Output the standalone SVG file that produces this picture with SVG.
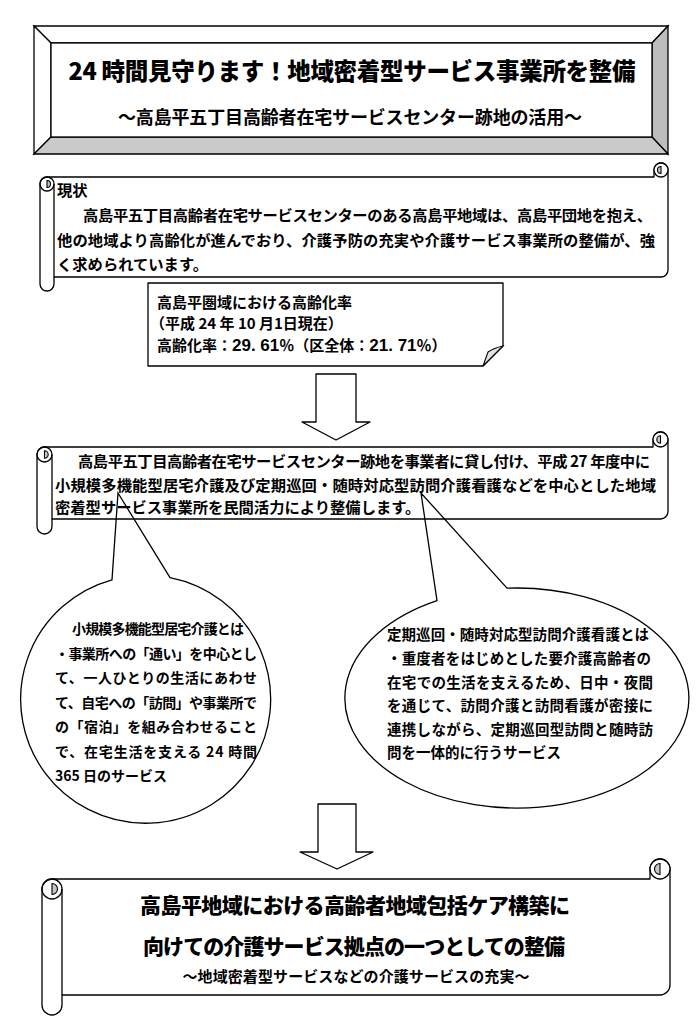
<svg xmlns="http://www.w3.org/2000/svg" width="700" height="1019" viewBox="0 0 700 1019">
<style>
.ln{fill:none;stroke:#000;stroke-width:1.3}
.sh{fill:#fff;stroke:#000;stroke-width:1.3;stroke-linejoin:round}
.gr{fill:#c6c6c6;stroke:#000;stroke-width:1.1}
.t{font-family:'Noto Sans CJK JP','Noto Sans',sans-serif;font-weight:700;fill:#000}
.hv{font-weight:900}
.num{font-family:'Liberation Sans',Arial,sans-serif;font-weight:700;font-size:17px}
</style>
<rect width="700" height="1019" fill="#fff"/>

<g id="title">
  <polygon points="34,26 668,26 652,43 51,43" fill="#fff" stroke="#000" stroke-width="1.3"/>
  <polygon points="34,26 51,43 51,137 34,154" fill="#fff" stroke="#000" stroke-width="1.3"/>
  <polygon points="668,26 668,154 652,137 652,43" fill="#bdbdbd" stroke="#000" stroke-width="1.3"/>
  <polygon points="34,154 668,154 652,137 51,137" fill="#cacaca" stroke="#000" stroke-width="1.3"/>
  <rect x="51" y="43" width="601" height="94" fill="#fff" stroke="#000" stroke-width="1.3"/>
  <text class="t hv" x="352" y="80" font-size="23.5" text-anchor="middle" textLength="567">24 時間見守ります！地域密着型サービス事業所を整備</text>
  <text class="t" x="350" y="124" font-size="18" text-anchor="middle" textLength="464">～高島平五丁目高齢者在宅サービスセンター跡地の活用～</text>
</g>

<g id="scroll-status">
  <path class="sh" d="M47,177 H654 V170 A7 7 0 0 1 668,170 V270 A7 7 0 0 1 661,277 H54 V284 A7 7 0 0 1 40,284 V184 A7 7 0 0 1 47,177 Z"/>
  <path class="ln" d="M54,184 V277"/>
  <circle class="ln" cx="47" cy="184" r="7"/>
  <path class="gr" d="M47,180.5 A3.5 3.5 0 0 1 47,187.5 Z"/>
  <circle class="sh" cx="661" cy="170" r="7"/>
  <path class="gr" d="M661,173.5 A3.5 3.5 0 0 1 661,166.5 Z"/>
  <text class="t" x="57" y="196" font-size="15.3">現状</text>
  <text class="t" x="83" y="221" font-size="15.3" textLength="569">高島平五丁目高齢者在宅サービスセンターのある高島平地域は、高島平団地を抱え、</text>
  <text class="t" x="57" y="246" font-size="15.3" textLength="598">他の地域より高齢化が進んでおり、介護予防の充実や介護サービス事業所の整備が、強</text>
  <text class="t" x="57" y="270" font-size="15.3">く求められています。</text>
</g>

<g id="note-rate">
  <path class="sh" d="M148,283 H503 V346 L483,366 H148 Z"/>
  <path d="M483,366 L488,352 Q494,348 503,346 Z" fill="#e2e2e2" stroke="#000" stroke-width="1.1"/>
  <text class="t" x="157" y="308" font-size="15">高島平圏域における高齢化率</text>
  <text class="t" x="150" y="329" font-size="15">（平成 24 年 10 月1日現在）</text>
  <text class="t" x="157" y="351" font-size="15">高齢化率：<tspan class="num">29. 61</tspan>％（区全体：<tspan class="num">21. 71</tspan>％）</text>
</g>

<g id="scroll-plan">
  <path class="sh" d="M44.5,447 H653 V439.5 A7.5 7.5 0 0 1 668,439.5 V511.5 A7.5 7.5 0 0 1 660.5,519 H52 V526.5 A7.5 7.5 0 0 1 37,526.5 V454.5 A7.5 7.5 0 0 1 44.5,447 Z"/>
  <path class="ln" d="M52,454.5 V519"/>
  <circle class="ln" cx="44.5" cy="454.5" r="7.5"/>
  <path class="gr" d="M44.5,450.8 A3.7 3.7 0 0 1 44.5,458.2 Z"/>
  <circle class="sh" cx="660.5" cy="439.5" r="7.5"/>
  <path class="gr" d="M660.5,443.2 A3.7 3.7 0 0 1 660.5,435.8 Z"/>
  <text class="t" x="78" y="467" font-size="15.3" textLength="572">高島平五丁目高齢者在宅サービスセンター跡地を事業者に貸し付け、平成 27 年度中に</text>
  <text class="t" x="55" y="491" font-size="15.3" textLength="601">小規模多機能型居宅介護及び定期巡回・随時対応型訪問介護看護などを中心とした地域</text>
  <text class="t" x="55" y="513" font-size="15.3">密着型サービス事業所を民間活力により整備します。</text>
</g>

<g id="callout-left">
  <path class="ln" d="M118,493 L112,579.8 A125 124 0 1 0 170,577.6 Z"/>
  <g class="t" font-size="14">
    <text x="72" y="634" textLength="172">小規模多機能型居宅介護とは</text>
    <text x="55" y="658.5" textLength="202">・事業所への「通い」を中心とし</text>
    <text x="55" y="683" textLength="202">て、一人ひとりの生活にあわせ</text>
    <text x="55" y="707.5" textLength="202">て、自宅への「訪問」や事業所で</text>
    <text x="55" y="732" textLength="202">の「宿泊」を組み合わせること</text>
    <text x="55" y="756.5" textLength="202">で、在宅生活を支える 24 時間</text>
    <text x="55" y="781">365 日のサービス</text>
  </g>
</g>

<g id="callout-right">
  <path class="ln" d="M421,493 L437,600.6 A172 110 0 1 0 507,588.2 Z"/>
  <g class="t" font-size="14.5">
    <text x="387" y="640" textLength="262">定期巡回・随時対応型訪問介護看護とは</text>
    <text x="387" y="664" textLength="264">・重度者をはじめとした要介護高齢者の</text>
    <text x="387" y="688" textLength="266">在宅での生活を支えるため、日中・夜間</text>
    <text x="387" y="711" textLength="266">を通じて、訪問介護と訪問看護が密接に</text>
    <text x="387" y="735" textLength="266">連携しながら、定期巡回型訪問と随時訪</text>
    <text x="387" y="758">問を一体的に行うサービス</text>
  </g>
</g>

<g id="connectors">
  <polygon class="sh" points="316,374 356,374 356,422 370,422 336,440 302,422 316,422"/>
  <polygon class="sh" points="318,804 356,804 356,852 373,852 337,869 300,852 318,852"/>
</g>

<g id="scroll-result">
  <path class="sh" d="M52,879 H650 V869 A10 10 0 0 1 670,869 V985 A10 10 0 0 1 660,995 H62 V1005 A10 10 0 0 1 42,1005 V889 A10 10 0 0 1 52,879 Z"/>
  <path class="ln" d="M62,889 V995"/>
  <circle class="ln" cx="52" cy="889" r="10"/>
  <path class="gr" d="M52,883.5 A5.5 5.5 0 0 1 52,894.5 Z"/>
  <circle class="sh" cx="660" cy="869" r="10"/>
  <path class="gr" d="M660,874.5 A5.5 5.5 0 0 1 660,863.5 Z"/>
  <text class="t hv" x="355" y="913" font-size="21" text-anchor="middle" textLength="430">高島平地域における高齢者地域包括ケア構築に</text>
  <text class="t hv" x="354" y="954" font-size="21" text-anchor="middle" textLength="422">向けての介護サービス拠点の一つとしての整備</text>
  <text class="t" x="356" y="982" font-size="15" text-anchor="middle" textLength="347">～地域密着型サービスなどの介護サービスの充実～</text>
</g>
</svg>
